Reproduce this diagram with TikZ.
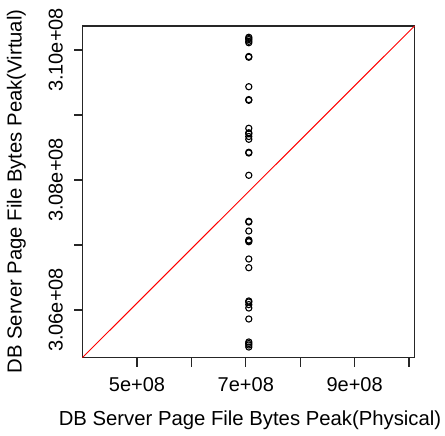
\documentclass[tikz,border=0pt]{standalone}
\usepackage{fontspec}
\setmainfont{Liberation Sans}
\begin{document}
\begin{tikzpicture}[x=1pt,y=-1pt,
  frame/.style={line width=1.1pt,draw=black!85},
  tickmark/.style={line width=1.1pt,draw=black!85},
  ticklabel/.style={font=\fontsize{20}{22}\selectfont,inner sep=0pt,anchor=base},
  axislabel/.style={font=\fontsize{20.3}{22}\selectfont,inner sep=0pt,anchor=base},
  pt/.style={line width=1.1pt,draw=black}]
\useasboundingbox[fill=white] (0,0) rectangle (445,436);
% plot frame
\draw[frame] (82.5,26) rectangle (414.5,357.5);
% identity line
\draw[red,line width=1pt] (82.5,357.5) -- (414.5,26);
% x axis ticks
\draw[tickmark] (137,357.5) -- (409,357.5);
\foreach \x in {137,191.4,245.8,300.2,354.6,409}
  \draw[tickmark] (\x,357.5) -- (\x,366.5);
\node[ticklabel] (x5) at (137,391.5) {5e+08};
\node[ticklabel] (x7) at (245.8,391.5) {7e+08};
\node[ticklabel] (x9) at (354.6,391.5) {9e+08};
% y axis ticks
\draw[tickmark] (82.5,50) -- (82.5,310);
\foreach \y in {50,115,180,245,310}
  \draw[tickmark] (82.5,\y) -- (74,\y);
\node[ticklabel,rotate=90] (y310) at (62.5,50) {3.10e+08};
\node[ticklabel,rotate=90] (y308) at (62.5,180) {3.08e+08};
\node[ticklabel,rotate=90] (y306) at (62.5,310) {3.06e+08};
% axis titles
\node[axislabel] (xlab) at (250,425) {DB Server Page File Bytes Peak(Physical)};
\node[axislabel,rotate=90] (ylab) at (21.5,191.5) {DB Server Page File Bytes Peak(Virtual)};
% observations
\foreach \y in {37.3,38.5,39.6,41.3,42.7,56.5,57.2,86.7,99.6,100.3,128.3,132.8,133.8,136.5,139.3,152.3,153,175.3,
  221.3,222,231,240,240.8,241.7,259,267.7,301,302,304.6,308,319,342,343.5,345,347}
  \draw[pt] (248.8,\y) circle (3.1);
\end{tikzpicture}
\end{document}
